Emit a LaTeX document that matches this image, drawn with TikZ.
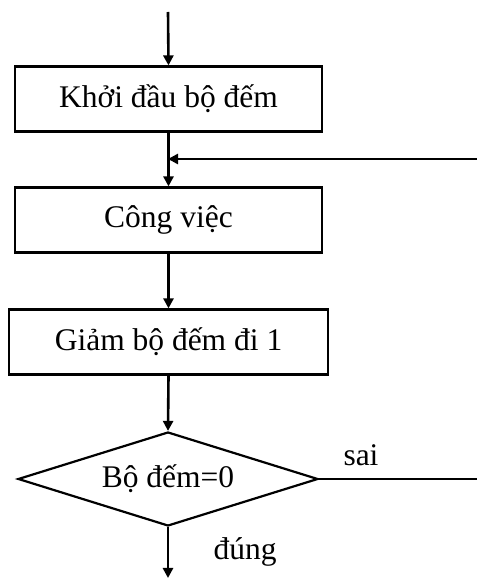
\documentclass[tikz,border=0pt]{standalone}
\usepackage{fontspec}
\setmainfont{Liberation Serif}
\usetikzlibrary{arrows.meta,shapes.geometric}
\begin{document}
\begin{tikzpicture}[x=1pt,y=1pt,
  every node/.style={font=\fontsize{31.5}{36}\selectfont},
  procbox/.style={draw,line width=2.2pt,inner sep=0pt,minimum width=307pt,minimum height=65pt},
  decision/.style={draw,line width=2.2pt,diamond,aspect=3.19,inner sep=0pt,minimum width=300pt,minimum height=94pt},
  flow/.style={line width=2.6pt,-{Triangle[length=10pt,width=10pt]}},
  plain/.style={line width=2.6pt},
  lbl/.style={inner sep=0pt}]
\useasboundingbox (0,0) rectangle (477,579);

\coordinate (start) at (168,567);
\node[procbox] (init) at (168.5,480) {Khởi đầu bộ đếm};
\node[procbox] (work) at (168.5,359) {Công việc};
\node[procbox,minimum width=319pt] (dec) at (168.5,237) {Giảm bộ đếm đi 1};
\node[decision] (test) at (168,100) {Bộ đếm=0};

\coordinate (loopin) at (477,420);
\coordinate (join) at (168,420);
\coordinate (falseout) at (477,100);
\coordinate (finish) at (168,1);

\draw[flow] (start) -- (init.north);
\draw[flow] (init.south) -- (work.north);
\draw[flow] (loopin) -- (join);
\draw[flow] (work.south) -- (dec.north);
\draw[flow] (dec.south) -- (test.north);
\draw[plain] (test.east) -- (falseout);
\draw[flow] (test.south) -- (finish);

\node[lbl] (lfalse) at (361,124) {sai};
\node[lbl] (ltrue) at (245,27) {đúng};
\end{tikzpicture}
\end{document}
